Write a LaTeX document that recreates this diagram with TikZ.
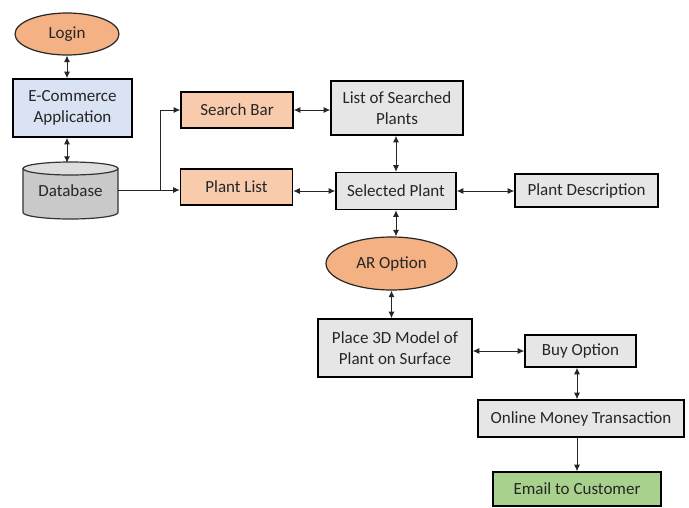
\documentclass[tikz,border=0pt]{standalone}
\usepackage{fontspec}
\setmainfont{Carlito}
\usetikzlibrary{arrows.meta,shapes.geometric}

\definecolor{orangefill}{HTML}{F4B183}
\definecolor{peachfill}{HTML}{F8CBAD}
\definecolor{bluefill}{HTML}{DAE3F3}
\definecolor{greyfill}{HTML}{E7E6E6}
\definecolor{greenfill}{HTML}{A9D18E}
\definecolor{dbbody}{HTML}{C9C9C9}
\definecolor{dbtop}{HTML}{DEDEDE}
\definecolor{inkcol}{HTML}{262626}

\tikzset{
  base/.style={inner sep=0pt, align=center, text=inkcol,
    font=\fontsize{17}{21}\selectfont},
  box/.style={base, rectangle, draw=black, line width=1.6pt},
  oval/.style={base, ellipse, draw=black!85, line width=1.2pt, fill=orangefill},
  link/.style={line width=0.9pt, draw=black!85},
  twoway/.style={link, {Latex[length=6.5pt,width=6pt]}-{Latex[length=6.5pt,width=6pt]}},
  oneway/.style={link, -{Latex[length=6.5pt,width=6pt]}}
}

\begin{document}
\begin{tikzpicture}[x=1pt,y=1pt]
\useasboundingbox (0,0) rectangle (689,-507);

% left column
\node[oval, minimum width=104, minimum height=42] (login) at (67,-34) {Login};
\node[box, fill=bluefill, minimum width=119, minimum height=58] (ecom) at (72.5,-108) {E-Commerce\\Application};

% database cylinder
\node[base, minimum width=95, minimum height=57] (db) at (70.5,-190.5) {};
\fill[dbbody] (23,-168.5) -- (23,-212.5)
  arc[start angle=180, end angle=360, x radius=47.5, y radius=6.5]
  -- (118,-168.5) -- cycle;
\draw[line width=1.2pt, draw=black!80] (23,-168.5) -- (23,-212.5)
  arc[start angle=180, end angle=360, x radius=47.5, y radius=6.5]
  -- (118,-168.5);
\draw[line width=1.2pt, draw=black!80, fill=dbtop] (70.5,-168.5) ellipse[x radius=47.5, y radius=6.5];
\node[base] at (70.5,-191) {Database};

% middle row
\node[box, fill=peachfill, minimum width=112, minimum height=36] (search) at (237,-110) {Search Bar};
\node[box, fill=peachfill, minimum width=112, minimum height=36] (plist) at (236.5,-187) {Plant List};
\node[box, fill=greyfill, minimum width=132, minimum height=54] (listed) at (397,-108) {List of Searched\\Plants};
\node[box, fill=greyfill, minimum width=120, minimum height=37] (sel) at (396,-191) {Selected Plant};
\node[box, fill=greyfill, minimum width=143, minimum height=33] (desc) at (586.5,-190.5) {Plant Description};

% lower part
\node[oval, minimum width=131, minimum height=53] (ar) at (391.5,-263.5) {AR Option};
\node[box, fill=greyfill, minimum width=154, minimum height=58] (place) at (395,-348) {Place 3D Model of\\Plant on Surface};
\node[box, fill=greyfill, minimum width=111, minimum height=32] (buy) at (580.5,-351) {Buy Option};
\node[box, fill=greyfill, minimum width=206, minimum height=37] (pay) at (581,-418.5) {Online Money Transaction};
\node[box, fill=greenfill, minimum width=168, minimum height=34] (mail) at (577,-489) {Email to Customer};

% connectors
\draw[twoway] (login.south) -- (login.south |- ecom.north);
\draw[twoway] (ecom.south -| login.south) -- ++(0,-25);

\coordinate (split) at (160,-190);
\draw[link] (db.east |- split) -- (split);
\draw[oneway] (split) -- (plist.west |- split);
\draw[oneway] (split) |- (search.west);

\draw[twoway] (search.east) -- (search.east -| listed.west);
\draw[twoway] (plist.east |- sel) -- (sel.west);
\draw[twoway] (listed.south -| sel.north) -- (sel.north);
\draw[twoway] (sel.east) -- (sel.east -| desc.west);
\draw[twoway] (sel.south) -- (sel.south |- ar.north);
\draw[twoway] (ar.south) -- (ar.south |- place.north);
\draw[twoway] (place.east |- buy) -- (buy.west);
\draw[twoway] (buy.south -| mail.north) -- (pay.north -| mail.north);
\draw[oneway] (pay.south -| mail.north) -- (mail.north);
\end{tikzpicture}
\end{document}
